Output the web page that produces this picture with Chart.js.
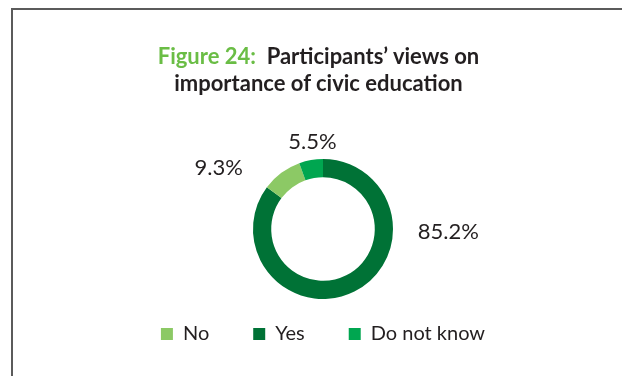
<!DOCTYPE html>
<html>
<head>
<meta charset="utf-8">
<script src="https://cdn.jsdelivr.net/npm/chart.js@4.4.0/dist/chart.umd.min.js"></script>
<style>
  html, body { margin: 0; padding: 0; background: #fff; }
  #wrap { position: relative; width: 622px; height: 376px; overflow: hidden; }
  #frame {
    position: absolute; left: 11px; top: 8px; right: -4px; bottom: -4px;
    border-left: 2px solid #5b5b5b; border-top: 2px solid #5b5b5b;
  }
  #title {
    position: absolute; left: 0; top: 42px; width: 637px;
    text-align: center; font-family: Lato, sans-serif; font-weight: bold;
    font-size: 22px; line-height: 27px; color: #231f20; white-space: pre;
  }
  #title .fig { color: #6abd45; }
  #donut { position: absolute; left: 0; top: 0; }
</style>
</head>
<body>
<div id="wrap">
  <div id="frame"></div>
  <canvas id="donut" width="622" height="376"></canvas>
  <div id="title"><span class="fig">Figure 24:</span>  Participants’ views on
importance of civic education</div>
</div>
<script>
const categories = ["Yes", "No", "Do not know"];
const shares = [85.2, 9.3, 5.5];
const legendOrder = ["No", "Yes", "Do not know"];
const sliceColors = ["#007236", "#8cc965", "#00a650"];

// where each percentage sits, in units of the outer radius from the centre
const labelSpots = [
  { dx: 1.79, dy: 0.04 },
  { dx: -1.49, dy: -0.87 },
  { dx: -0.15, dy: -1.24 },
];

const sliceLabels = {
  id: "sliceLabels",
  afterDatasetsDraw(chart) {
    const ctx = chart.ctx;
    const meta = chart.getDatasetMeta(0);
    ctx.save();
    ctx.font = "22px Lato, sans-serif";
    ctx.fillStyle = "#231f20";
    ctx.textAlign = "center";
    ctx.textBaseline = "middle";
    meta.data.forEach((arc, i) => {
      const r = arc.outerRadius;
      const spot = labelSpots[i];
      ctx.fillText(
        shares[i].toFixed(1) + "%",
        arc.x + spot.dx * r,
        arc.y + spot.dy * r
      );
    });
    ctx.restore();
  },
};

new Chart(document.getElementById("donut"), {
  type: "doughnut",
  data: {
    labels: categories,
    datasets: [
      {
        data: shares,
        backgroundColor: sliceColors,
        borderWidth: 0,
        clip: false,
      },
    ],
  },
  options: {
    responsive: false,
    animation: false,
    radius: 70,
    cutout: "74%",
    layout: {
      padding: { top: 178, left: 24, right: 0, bottom: 22 },
    },
    plugins: {
      tooltip: { enabled: false },
      legend: {
        position: "bottom",
        labels: {
          boxWidth: 12,
          boxHeight: 12,
          padding: 44,
          color: "#231f20",
          font: { family: "Lato, sans-serif", size: 20 },
          sort: (a, b) =>
            legendOrder.indexOf(a.text) - legendOrder.indexOf(b.text),
        },
      },
    },
  },
  plugins: [sliceLabels],
});
</script>
</body>
</html>
